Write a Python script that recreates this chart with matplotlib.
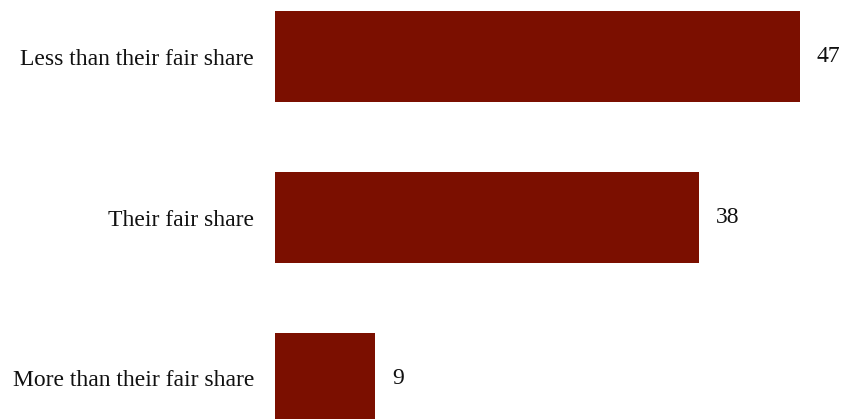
import matplotlib.pyplot as plt

# survey answers, top to bottom
categories = ["Less than their fair share", "Their fair share", "More than their fair share"]
values = [47, 38, 9]

bar_color = "#7B0F00"

plt.rcParams['font.family'] = ['Liberation Serif', 'DejaVu Serif']

fig = plt.figure(figsize=(8.42, 4.19), dpi=100)
ax = fig.add_axes([275 / 842, 0, 1 - 275 / 842, 1])

pos = list(range(len(categories)))
ax.barh(pos, values, height=0.565, color=bar_color)

for p, v in zip(pos, values):
    ax.annotate(str(v), xy=(v, p), xytext=(12, 0), textcoords="offset points",
                ha="left", va="center", fontsize=17, color="#111111")

ax.set_xlim(0, 50.8)
ax.set_ylim(2.2516, -0.351)
ax.set_yticks(pos)
ax.set_yticklabels(categories, fontsize=17, color="#111111")
ax.tick_params(axis="y", length=0, pad=15)
ax.set_xticks([])
for s in ax.spines.values():
    s.set_visible(False)

fig.savefig("out.png", dpi=100)
